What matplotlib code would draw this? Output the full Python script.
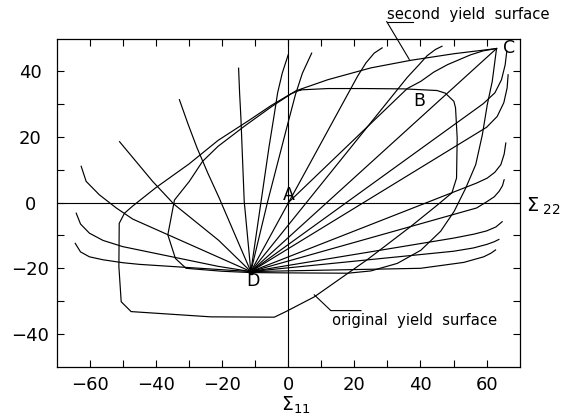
import matplotlib
matplotlib.use("Agg")
import matplotlib.pyplot as plt

# ---------------- data ----------------
D = (-11.3, -21.0)
C = (63.0, 47.0)

orig_x = [3.8, 12, 22.9, 35, 45, 47.5, 50.1, 50.6, 51.1, 50.9, 49.5, 45, 37, 24, 7.9, -0.7,
          -4.2, -23.4, -47.5, -50.5, -51.2, -51.1, -49.5, -47, -40, -30, -21.2, -12, -5.2, 0.8, 3.8]
orig_y = [34.4, 34.8, 34.8, 34.7, 34.2, 33.4, 30.9, 28.9, 19.7, 7.5, 3.0, -0.8, -7.3, -17.3, -28.7, -33.2,
          -34.9, -34.8, -33.2, -30.2, -19.5, -6.3, -3.2, -1.0, 4.6, 11.8, 19.0, 25.0, 29.6, 33.2, 34.4]

sec_x = [63.0, 50, 37, 25, 12, 2.3, 0, -5, -13, -21.2, -25.9, -29.9, -34.4, -36.4, -34.1, -30.9,
         -20, -11.3, 0, 18, 25, 33, 40.1, 46.1, 50.2, 53.7, 56.7, 58.7, 60.2, 61.7, 63.0]
sec_y = [47.0, 45.4, 43.4, 41.1, 37.5, 34.1, 32.6, 29.3, 23.5, 17.2, 12.6, 6.5, 0.8, -9.8, -17.0, -20.0,
         -20.9, -21.3, -21.4, -21.5, -20.8, -18.5, -14.5, -8.7, -2.6, 4.5, 11.6, 20.7, 29.9, 37.0, 47.0]

# loading path A -> B -> C
abc_x = [0, 36, 40.1, 44, 48.2, 55.2, 59, 63.0]
abc_y = [0, 34.8, 37.0, 39.8, 42.1, 45.1, 46.3, 47.0]

# stress paths starting at D
ray_L1_x = [-11.3, -45, -50, -56, -60.1, -62.8, -64.4]
ray_L1_y = [-21.0, -18.8, -18.3, -17.4, -16.5, -15.0, -12.4]
ray_L2_x = [-11.3, -21.2, -50, -56, -60.1, -62.8, -64.1]
ray_L2_y = [-21.0, -19.4, -13.4, -11.5, -9.3, -6.5, -3.2]
ray_L3_x = [-11.3, -47, -52, -57.1, -61.1, -62.6]
ray_L3_y = [-21.0, -5.0, -1.6, 2.4, 6.5, 11.1]
ray_L4_x = [-11.3, -21, -34.5, -41, -51]
ray_L4_y = [-21.0, -11.5, -0.5, 6.5, 18.6]
ray_L5_x = [-11.3, -16, -20.9, -24.3, -27.6, -30.3, -32.9]
ray_L5_y = [-21.0, -10.0, 1.5, 9.0, 16.8, 24.0, 31.4]
ray_L6_x = [-11.3, -13.3, -13.8, -14.3, -14.7, -15.0]
ray_L6_y = [-21.0, 0.4, 13.0, 25.8, 33.5, 41.0]
ray_L7_x = [-11.3, -8.2, -5.8, -4.2, -3.2, -1.8, 0.0]
ray_L7_y = [-21.0, 0.4, 17.0, 27.0, 33.5, 39.5, 45.1]
ray_L8_x = [-11.3, -6.2, -0.2, 2.2, 4.3, 7.1]
ray_L8_y = [-21.0, 0.4, 23.8, 33.0, 39.5, 45.6]
ray_L9_x = [-11.3, 21, 23.5, 26, 28.4]
ray_L9_y = [-21.0, 38.6, 42.6, 45.6, 47.2]
ray_L10_x = [-11.3, 36, 39.5, 42, 44.5, 46.5]
ray_L10_y = [-21.0, 38.2, 42.0, 44.8, 46.7, 47.7]
ray_DC_x = [-11.3, 63.0]
ray_DC_y = [-21.0, 47.0]
ray_L13_x = [-11.3, 59, 62.5, 64.5, 65.6, 66.1]
ray_L13_y = [-21.0, 30.2, 33.5, 37.5, 42.0, 46.2]
ray_L14_x = [-11.3, 60, 63.2, 65.2, 66.2, 66.5]
ray_L14_y = [-21.0, 23.0, 26.3, 30.5, 35.0, 39.0]
ray_L15_x = [-11.3, 57, 60.2, 62.5, 64.3, 65.3, 65.8]
ray_L15_y = [-21.0, 6.0, 7.5, 9.3, 11.6, 14.8, 18.2]
ray_L16_x = [-11.3, 57, 60.2, 62.3, 63.8, 64.8, 65.3]
ray_L16_y = [-21.0, -1.6, 0.4, 1.8, 3.5, 5.2, 7.0]
ray_L17_x = [-11.3, 50, 56.1, 60, 62.8, 64.7]
ray_L17_y = [-21.0, -10.8, -9.6, -8.6, -7.4, -5.8]
ray_L18_x = [-11.3, 50, 56, 60.1, 62.3, 63.7]
ray_L18_y = [-21.0, -14.8, -13.8, -12.7, -11.9, -11.2]
ray_L19_x = [-11.3, 40, 53.1, 59.1, 61.3, 62.7]
ray_L19_y = [-21.0, -20.0, -18.2, -16.5, -15.4, -14.4]

rays = [(ray_L1_x, ray_L1_y), (ray_L2_x, ray_L2_y), (ray_L3_x, ray_L3_y), (ray_L4_x, ray_L4_y),
        (ray_L5_x, ray_L5_y), (ray_L6_x, ray_L6_y), (ray_L7_x, ray_L7_y), (ray_L8_x, ray_L8_y),
        (ray_L9_x, ray_L9_y), (ray_L10_x, ray_L10_y), (ray_DC_x, ray_DC_y), (ray_L13_x, ray_L13_y),
        (ray_L14_x, ray_L14_y), (ray_L15_x, ray_L15_y), (ray_L16_x, ray_L16_y), (ray_L17_x, ray_L17_y),
        (ray_L18_x, ray_L18_y), (ray_L19_x, ray_L19_y)]

x_ticks = [-60, -40, -20, 0, 20, 40, 60]
y_ticks = [-40, -20, 0, 20, 40]

# ---------------- figure ----------------
fig = plt.figure(figsize=(5.74, 4.16), dpi=100)
ax = fig.add_axes([0.0988, 0.1185, 0.8066, 0.7885])
ax.set_xlim(-70, 70)
ax.set_ylim(-50, 50)

lw = 0.85
ax.axhline(0, color='k', lw=0.8)
ax.axvline(0, color='k', lw=0.8)
ax.plot(orig_x, orig_y, color='k', lw=lw)
ax.plot(sec_x, sec_y, color='k', lw=lw)
ax.plot(abc_x, abc_y, color='k', lw=lw)
for rx, ry in rays:
    ax.plot(rx, ry, color='k', lw=lw)
ax.plot([D[0]], [D[1]], 'o', color='k', ms=3)

lab = dict(fontsize=12.5, family='DejaVu Sans', ha='center', va='center')
ax.text(0.1, 2.2, 'A', **lab)
ax.text(39.5, 31.1, 'B', **lab)
ax.text(66.7, 47.3, 'C', **lab)
ax.text(-10.7, -24.0, 'D', **lab)

# annotations
ax.text(30.0, 57.3, 'second  yield  surface', fontsize=10.6, ha='left', va='center', clip_on=False)
ax.plot([29.8, 37.6], [55.2, 55.2], color='k', lw=0.8, clip_on=False)
ax.plot([29.8, 36.6], [55.2, 43.7], color='k', lw=0.8, clip_on=False)

ax.text(13.1, -35.8, 'original  yield  surface', fontsize=10.6, ha='left', va='center')
ax.plot([7.9, 12.9, 22.0], [-28.1, -32.9, -32.9], color='k', lw=0.8)

ax.text(72.0, -1.2, r'$\Sigma_{\ 22}$', fontsize=14, ha='left', va='center', clip_on=False)
fig.text(295.5 / 574, 1 - 405 / 416, r'$\Sigma_{11}$', fontsize=13.5, ha='center', va='center')

ax.set_xticks(x_ticks)
ax.set_yticks(y_ticks)
ax.set_xticks(range(-60, 61, 10), minor=True)
ax.set_yticks(range(-40, 41, 10), minor=True)
ax.tick_params(which='both', direction='in', top=True, right=True, length=5, width=0.8)
ax.tick_params(which='major', labelsize=13)
ax.tick_params(axis='x', which='major', pad=7)
ax.tick_params(axis='y', which='major', pad=19)
for t in ax.get_yticklabels():
    t.set_horizontalalignment('center')
for s in ax.spines.values():
    s.set_linewidth(0.9)

fig.savefig('out.png', dpi=100)
